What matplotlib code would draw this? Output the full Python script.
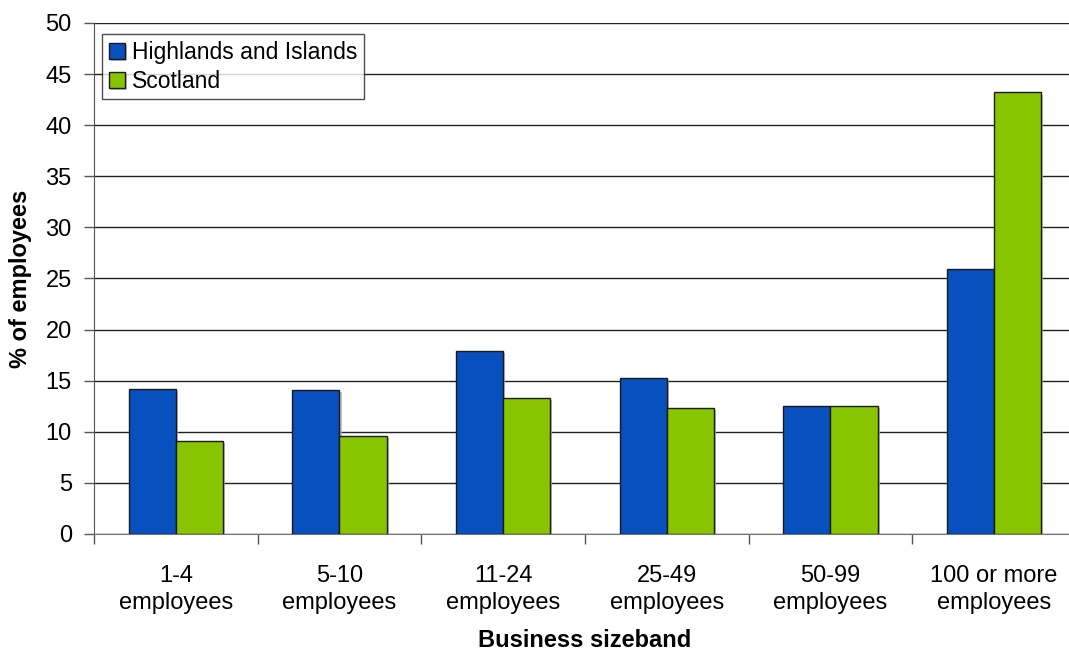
import numpy as np
import matplotlib
matplotlib.use("Agg")
import matplotlib.pyplot as plt
from matplotlib import patheffects

plt.rcParams['font.family'] = ['Liberation Sans', 'DejaVu Sans']

# share of employees by business sizeband
categories = ["1-4\nemployees", "5-10\nemployees", "11-24\nemployees",
              "25-49\nemployees", "50-99\nemployees", "100 or more\nemployees"]
highlands = [14.2, 14.1, 17.9, 15.3, 12.5, 25.9]
scotland = [9.1, 9.6, 13.3, 12.3, 12.5, 43.2]

blue = "#0750BE"
green = "#88C400"

fig = plt.figure(figsize=(10.69, 6.52), dpi=100)
ax = fig.add_axes([94 / 1069, 118 / 652, 982 / 1069, 511 / 652])

x = np.arange(len(categories))
w = 0.288
shadow = [patheffects.SimplePatchShadow(offset=(1.5, -1.5), shadow_rgbFace="#b0b0b0", alpha=0.8),
          patheffects.Normal()]
b1 = ax.bar(x - w / 2, highlands, w, color=blue, edgecolor="#1a1a1a", linewidth=1,
            label="Highlands and Islands", zorder=3)
b2 = ax.bar(x + w / 2, scotland, w, color=green, edgecolor="#1a1a1a", linewidth=1,
            label="Scotland", zorder=3)
for p in list(b1) + list(b2):
    p.set_path_effects(shadow)

ax.set_xlim(-0.5, len(categories) - 0.5)
ax.set_ylim(0, 50)
ax.set_yticks(np.arange(0, 51, 5))
ax.yaxis.grid(True, color="#222222", linewidth=1)
ax.set_axisbelow(True)

# category boundaries get tick marks, labels sit at the centres
ax.set_xticks(np.arange(-0.5, len(categories), 1))
ax.set_xticklabels([])
ax.set_xticks(x, minor=True)
ax.set_xticklabels(categories, minor=True, fontsize=17, linespacing=1.3)
ax.tick_params(axis="x", which="minor", length=0, pad=22)
ax.tick_params(axis="x", which="major", length=7, width=1, color="#555555")
ax.tick_params(axis="y", length=7, width=1, color="#555555", labelsize=17, pad=9)

for s in ["top", "right"]:
    ax.spines[s].set_visible(False)
ax.spines["left"].set_color("#555555")
ax.spines["bottom"].set_color("#777777")

yl = ax.set_ylabel("% of employees", fontsize=17, fontweight="bold")
yl.set_verticalalignment("center")
ax.yaxis.set_label_coords(-74 / 982, 0.5)
xl = ax.set_xlabel("Business sizeband", fontsize=17, fontweight="bold")
xl.set_verticalalignment("baseline")
ax.xaxis.set_label_coords(0.5, -113 / 511)

leg = ax.legend(loc="upper left", bbox_to_anchor=(8 / 982, 1 - 11 / 511), fontsize=16.5,
                frameon=True, fancybox=False, edgecolor="#222222", handlelength=0.7,
                handleheight=0.7, handletextpad=0.3, borderpad=0.3, labelspacing=0.25,
                borderaxespad=0)
leg.get_frame().set_linewidth(1)

fig.savefig("out.png", dpi=100)
